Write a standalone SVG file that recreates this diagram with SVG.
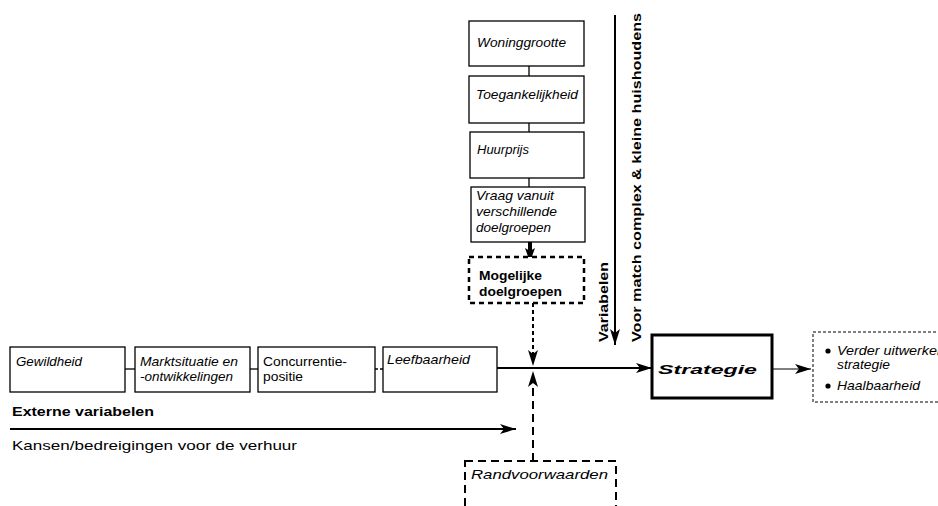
<svg xmlns="http://www.w3.org/2000/svg" width="938" height="506" viewBox="0 0 938 506">
  <defs>
    <style>
      .box { fill: #fff; stroke: #000; stroke-width: 1.3; }
      .t { font-family: "Liberation Sans", Arial, sans-serif; font-size: 13px; fill: #000; }
      .i { font-style: italic; }
      .b { font-weight: bold; }
      .line { stroke: #000; fill: none; }
    </style>
    <marker id="head" viewBox="0 0 16 10" refX="16" refY="5" markerWidth="16" markerHeight="10" markerUnits="userSpaceOnUse" orient="auto">
      <path d="M0,0 L16,5 L0,10 L4,5 z" fill="#000"/>
    </marker>
    <marker id="headSmall" viewBox="0 0 14 10" refX="14" refY="5" markerWidth="14" markerHeight="10" markerUnits="userSpaceOnUse" orient="auto">
      <path d="M0,0 L14,5 L0,10 L3,5 z" fill="#000"/>
    </marker>
  </defs>
  <rect width="938" height="506" fill="#fff"/>

  <!-- connectors -->
  <g id="connectors">
    <!-- links between the stacked variable boxes -->
    <line class="line" x1="529" y1="66" x2="529" y2="76" stroke-width="1.3"/>
    <line class="line" x1="529" y1="123" x2="529" y2="132" stroke-width="1.3"/>
    <line class="line" x1="529" y1="178" x2="529" y2="187" stroke-width="1.3"/>
    <!-- Vraag -> Mogelijke doelgroepen -->
    <line class="line" x1="530" y1="242" x2="530" y2="262" stroke-width="4" marker-end="url(#headSmall)"/>
    <!-- links between the external variable boxes -->
    <line class="line" x1="125" y1="369" x2="135" y2="369" stroke-width="1.3"/>
    <line class="line" x1="250" y1="369" x2="258" y2="369" stroke-width="1.3"/>
    <line class="line" x1="375" y1="369" x2="383" y2="369" stroke-width="1.3" stroke-dasharray="3 2"/>
    <!-- main line to Strategie -->
    <line class="line" x1="497" y1="368" x2="652" y2="368" stroke-width="2.2" marker-end="url(#head)"/>
    <!-- Mogelijke doelgroepen -> junction -->
    <line class="line" x1="533" y1="303" x2="533" y2="366" stroke-width="2" stroke-dasharray="4 3" marker-end="url(#head)"/>
    <!-- Randvoorwaarden -> junction -->
    <line class="line" x1="533" y1="461" x2="533" y2="371" stroke-width="2" stroke-dasharray="8 5" marker-end="url(#head)"/>
    <!-- variables arrow -->
    <line class="line" x1="615" y1="15" x2="615" y2="345" stroke-width="2" marker-end="url(#head)"/>
    <!-- external variables arrow -->
    <line class="line" x1="10" y1="429" x2="516" y2="429" stroke-width="2" marker-end="url(#head)"/>
    <!-- Strategie -> result -->
    <line class="line" x1="772" y1="369" x2="811" y2="369" stroke-width="1.2" marker-end="url(#head)"/>
  </g>

  <!-- stacked variables -->
  <g id="woninggrootte">
    <rect class="box" x="469" y="21" width="115" height="45"/>
    <text class="t i" x="477" y="47" textLength="89" lengthAdjust="spacingAndGlyphs">Woninggrootte</text>
  </g>
  <g id="toegankelijkheid">
    <rect class="box" x="469" y="76" width="115" height="47"/>
    <text class="t i" x="476" y="99" textLength="102" lengthAdjust="spacingAndGlyphs">Toegankelijkheid</text>
  </g>
  <g id="huurprijs">
    <rect class="box" x="470" y="132" width="114" height="46"/>
    <text class="t i" x="477" y="154" textLength="52" lengthAdjust="spacingAndGlyphs">Huurprijs</text>
  </g>
  <g id="vraag">
    <rect class="box" x="471" y="187" width="114" height="55"/>
    <text class="t i" x="476" y="200" textLength="78" lengthAdjust="spacingAndGlyphs">Vraag vanuit</text>
    <text class="t i" x="476" y="216" textLength="81" lengthAdjust="spacingAndGlyphs">verschillende</text>
    <text class="t i" x="476" y="232" textLength="75" lengthAdjust="spacingAndGlyphs">doelgroepen</text>
  </g>
  <g id="mogelijke-doelgroepen">
    <rect x="469" y="257" width="115" height="46" fill="#fff" stroke="#000" stroke-width="2.5" stroke-dasharray="5 4"/>
    <text class="t b" x="479" y="280" textLength="63" lengthAdjust="spacingAndGlyphs">Mogelijke</text>
    <text class="t b" x="479" y="296" textLength="83" lengthAdjust="spacingAndGlyphs">doelgroepen</text>
  </g>

  <!-- external variables -->
  <g id="gewildheid">
    <rect class="box" x="10" y="347" width="115" height="45"/>
    <text class="t i" x="16" y="366" textLength="66" lengthAdjust="spacingAndGlyphs">Gewildheid</text>
  </g>
  <g id="marktsituatie">
    <rect class="box" x="135" y="347" width="115" height="45"/>
    <text class="t i" x="140" y="366" textLength="98" lengthAdjust="spacingAndGlyphs">Marktsituatie en</text>
    <text class="t i" x="140" y="381" textLength="93" lengthAdjust="spacingAndGlyphs">-ontwikkelingen</text>
  </g>
  <g id="concurrentiepositie">
    <rect class="box" x="258" y="347" width="117" height="45"/>
    <text class="t" x="263" y="366" textLength="84" lengthAdjust="spacingAndGlyphs">Concurrentie-</text>
    <text class="t" x="263" y="381" textLength="40" lengthAdjust="spacingAndGlyphs">positie</text>
  </g>
  <g id="leefbaarheid">
    <rect class="box" x="383" y="347" width="114" height="45"/>
    <text class="t i" x="387" y="364" textLength="83" lengthAdjust="spacingAndGlyphs">Leefbaarheid</text>
  </g>

  <g id="labels">
    <text class="t b" x="12" y="416" font-size="15" textLength="142" lengthAdjust="spacingAndGlyphs">Externe variabelen</text>
    <text class="t" x="12" y="450" font-size="15" textLength="285" lengthAdjust="spacingAndGlyphs">Kansen/bedreigingen voor de verhuur</text>
    <text class="t b" transform="translate(608,342) rotate(-90)" textLength="80" lengthAdjust="spacingAndGlyphs">Variabelen</text>
    <text class="t b" transform="translate(641,342) rotate(-90)" textLength="329" lengthAdjust="spacingAndGlyphs">Voor match complex &amp; kleine huishoudens</text>
  </g>

  <g id="randvoorwaarden">
    <rect x="465" y="461" width="151" height="60" fill="none" stroke="#000" stroke-width="2" stroke-dasharray="8 5"/>
    <text class="t i" x="471" y="479" font-size="15" textLength="137" lengthAdjust="spacingAndGlyphs">Randvoorwaarden</text>
  </g>

  <g id="strategie">
    <rect x="652" y="335" width="120" height="63" fill="#fff" stroke="#000" stroke-width="3"/>
    <text class="t b i" x="658" y="374" font-size="23" textLength="99" lengthAdjust="spacingAndGlyphs">Strategie</text>
  </g>

  <g id="uitwerking">
    <rect x="813" y="332" width="140" height="70" fill="#fff" stroke="#000" stroke-width="1" stroke-dasharray="3 2"/>
    <circle cx="828" cy="351" r="2.6" fill="#000"/>
    <text class="t i" x="837" y="355" textLength="108" lengthAdjust="spacingAndGlyphs">Verder uitwerken</text>
    <text class="t i" x="837" y="369" textLength="53" lengthAdjust="spacingAndGlyphs">strategie</text>
    <circle cx="828" cy="386" r="2.6" fill="#000"/>
    <text class="t i" x="837" y="390" textLength="83" lengthAdjust="spacingAndGlyphs">Haalbaarheid</text>
  </g>
</svg>
